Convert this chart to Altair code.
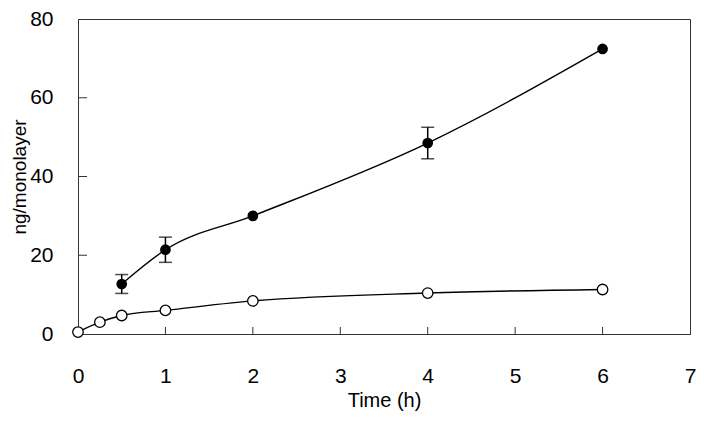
import altair as alt
import pandas as pd

# ---- data ----
t_filled = [0.5, 1, 2, 4, 6]
y_filled = [12.7, 21.4, 30.0, 48.5, 72.4]
e_filled = [2.4, 3.2, 0.0, 4.0, 0.0]

t_open = [0, 0.25, 0.5, 1, 2, 4, 6]
y_open = [0.5, 3.0, 4.7, 6.0, 8.4, 10.4, 11.3]

x_ticks = [0, 1, 2, 3, 4, 5, 6, 7]
y_ticks = [0, 20, 40, 60, 80]
x_inner_ticks = [1, 2, 3, 4, 5, 6]
y_inner_ticks = [20, 40, 60]

W, H = 612, 315
FONT = "Liberation Sans"

filled = pd.DataFrame({"t": t_filled, "y": y_filled, "e": e_filled})
opn = pd.DataFrame({"t": t_open, "y": y_open})
err = filled[filled["e"] > 0].copy()
err["lo"] = err["y"] - err["e"]
err["hi"] = err["y"] + err["e"]

xs = alt.Scale(domain=[0, 7], nice=False)
ys = alt.Scale(domain=[0, 80], nice=False)

xax = alt.Axis(values=x_ticks, format="d", ticks=False, tickSize=0, grid=False, labelPadding=31,
               labelFontSize=21, labelFont=FONT, labelColor="black", title="Time (h)",
               titleFont=FONT, titleFontSize=20, titleFontWeight="normal", titleColor="black",
               titleX=W / 2, titleY=66, titleBaseline="middle", titleAlign="center",
               domainColor="#333", labelFlush=False)
yax = alt.Axis(values=y_ticks, format="d", ticks=False, tickSize=0, grid=False, labelPadding=25,
               labelFontSize=21, labelFont=FONT, labelColor="black", title="ng/monolayer",
               titleFont=FONT, titleFontSize=19, titleFontWeight="normal", titleColor="black",
               titleX=-59, titleY=H / 2, titleAngle=-90, titleBaseline="middle",
               titleAlign="center", domainColor="#333", labelFlush=False)

line_f = alt.Chart(filled).mark_line(color="black", strokeWidth=1.4, interpolate="monotone").encode(
    x=alt.X("t:Q", scale=xs, axis=xax), y=alt.Y("y:Q", scale=ys, axis=yax))
line_o = alt.Chart(opn).mark_line(color="black", strokeWidth=1.4, interpolate="monotone").encode(
    x=alt.X("t:Q", scale=xs), y=alt.Y("y:Q", scale=ys))

bars = alt.Chart(err).mark_rule(color="black", strokeWidth=1.5).encode(
    x="t:Q", y="lo:Q", y2="hi:Q")
cap_lo = alt.Chart(err).mark_tick(color="black", thickness=1.5, size=13, orient="horizontal").encode(
    x="t:Q", y="lo:Q")
cap_hi = alt.Chart(err).mark_tick(color="black", thickness=1.5, size=13, orient="horizontal").encode(
    x="t:Q", y="hi:Q")

pts_f = alt.Chart(filled).mark_point(shape="circle", filled=True, size=115, color="black", opacity=1).encode(
    x="t:Q", y="y:Q")
pts_o = alt.Chart(opn).mark_point(shape="circle", filled=True, size=110, fill="white",
                                 stroke="black", strokeWidth=1.3, opacity=1).encode(
    x="t:Q", y="y:Q")

xt = alt.Chart(pd.DataFrame({"t": x_inner_ticks})).mark_rule(color="#333", strokeWidth=1).encode(
    x="t:Q", y=alt.value(H), y2=alt.value(H - 7))
yt = alt.Chart(pd.DataFrame({"v": y_inner_ticks})).mark_rule(color="#333", strokeWidth=1).encode(
    y="v:Q", x=alt.value(0), x2=alt.value(9))

chart = alt.layer(line_f, line_o, xt, yt, bars, cap_lo, cap_hi, pts_o, pts_f).properties(
    width=W, height=H,
    autosize=alt.AutoSizeParams(type="none"),
    padding={"left": 70, "top": 11, "right": 6, "bottom": 78},
    background="white",
).configure_view(stroke="#333", strokeWidth=1)

chart.save("out.html", embed_options={"renderer": "svg", "actions": False})
